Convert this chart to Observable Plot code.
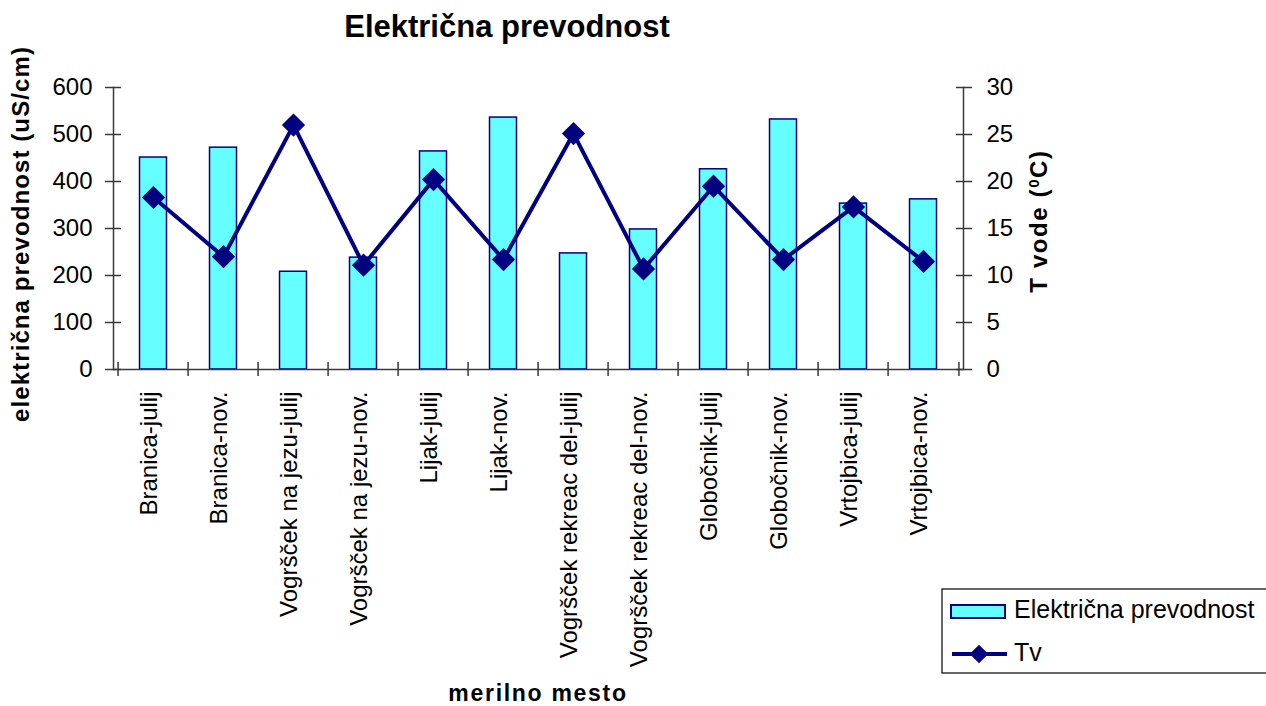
<!DOCTYPE html>
<html>
<head>
<meta charset="utf-8">
<script src="https://cdn.jsdelivr.net/npm/d3@7"></script>
<script src="https://cdn.jsdelivr.net/npm/@observablehq/plot@0.6"></script>
<style>
  body { margin: 0; background: #fff; }
  #chart { width: 1266px; height: 706px; overflow: hidden; }
  #chart svg { font-family: "Liberation Sans", Arial, sans-serif; }
</style>
</head>
<body>
<div id="chart"></div>
<script>
// Measuring sites and sampling season
const sites = [
  "Branica-julij", "Branica-nov.",
  "Vogršček na jezu-julij", "Vogršček na jezu-nov.",
  "Lijak-julij", "Lijak-nov.",
  "Vogršček rekreac del-julij", "Vogršček rekreac del-nov.",
  "Globočnik-julij", "Globočnik-nov.",
  "Vrtojbica-julij", "Vrtojbica-nov."
];
// Electrical conductivity (uS/cm)
const conductivity = [451, 472, 208, 238, 464, 536, 247, 298, 426, 532, 353, 362];
// Water temperature (°C)
const waterTemp = [18.3, 12.0, 26.0, 11.1, 20.2, 11.7, 25.1, 10.7, 19.5, 11.7, 17.3, 11.5];
// Axis ticks
const conductivityTicks = [0, 100, 200, 300, 400, 500, 600];
const tempTicks = [0, 5, 10, 15, 20, 25, 30];
const seriesNames = ["Električna prevodnost", "Tv"];

const title = "Električna prevodnost";
const yLabelLeft = "električna prevodnost (uS/cm)";
const xLabel = "merilno mesto";

const barFill = "#66ffff";
const navy = "#000080";
const axisGrey = "#3a3a3a";

const W = 1266, H = 706;
const mL = 113, mR = 303, mT = 87, mB = 337;
const step = (W - mL - mR) / sites.length;

// temperature shares the conductivity axis: 30 °C ↔ 600 uS/cm
const k = d3.max(conductivityTicks) / d3.max(tempTicks);

const rows = sites.map((s, i) => ({site: s, ec: conductivity[i], tv: waterTemp[i]}));
const noText = () => "";

const chart = Plot.plot({
  width: W, height: H,
  marginLeft: mL, marginRight: mR, marginTop: mT, marginBottom: mB,
  style: {fontFamily: "Liberation Sans, Arial, sans-serif", fontSize: "24px", color: "#000", background: "#fff"},
  x: {domain: sites, padding: 0, label: null},
  y: {domain: [0, 600], label: null},
  marks: [
    Plot.barY(rows, {x: "site", y: "ec", fill: barFill, stroke: navy, strokeWidth: 1.5,
      insetLeft: 21.5, insetRight: 21.5}),
    // axis lines
    Plot.frame({anchor: "left", stroke: axisGrey, strokeWidth: 1.5}),
    Plot.frame({anchor: "right", stroke: axisGrey, strokeWidth: 1.5}),
    Plot.ruleY([0], {stroke: axisGrey, strokeWidth: 1.5}),
    // left axis (conductivity)
    Plot.axisY(conductivityTicks, {anchor: "left", tickSize: 16, dx: 8, tickPadding: 13,
      stroke: axisGrey, strokeWidth: 1.5, fontSize: 24, label: null}),
    // right axis (temperature)
    Plot.axisY(conductivityTicks, {anchor: "right", tickSize: 16, dx: -8, tickPadding: 15,
      tickFormat: d => d / k, stroke: axisGrey, strokeWidth: 1.5, fontSize: 24, label: null}),
    // category labels
    Plot.axisX({anchor: "bottom", tickSize: 0, tickRotate: -90, tickPadding: 22, dx: -4,
      fontSize: 24, label: null}),
    // category separators
    Plot.axisX(sites, {anchor: "bottom", tickSize: 14, dy: -7, dx: -step / 2, tickFormat: noText,
      stroke: axisGrey, strokeWidth: 1.5, label: null}),
    Plot.axisX([sites[sites.length - 1]], {anchor: "bottom", tickSize: 14, dy: -7, dx: step / 2,
      tickFormat: noText, stroke: axisGrey, strokeWidth: 1.5, label: null}),
    // temperature line
    Plot.line(rows, {x: "site", y: d => d.tv * k, stroke: navy, strokeWidth: 4}),
    Plot.dot(rows, {x: "site", y: d => d.tv * k, symbol: "diamond2", r: 9.5, fill: navy, stroke: navy})
  ]
});

document.getElementById("chart").appendChild(chart);

const svg = d3.select(chart);
const font = "Liberation Sans, Arial, sans-serif";

// chart title
svg.append("text")
  .attr("x", 507).attr("y", 37)
  .attr("text-anchor", "middle")
  .attr("font-family", font).attr("font-weight", "bold")
  .attr("font-size", 31)
  .text(title);

// left axis title
svg.append("text")
  .attr("transform", "translate(29,234) rotate(-90)")
  .attr("text-anchor", "middle")
  .attr("font-family", font).attr("font-weight", "bold")
  .attr("font-size", 24).attr("letter-spacing", 1.1)
  .text(yLabelLeft);

// right axis title with superscript degree zero
const rt = svg.append("text")
  .attr("transform", "translate(1047,221) rotate(-90)")
  .attr("text-anchor", "middle")
  .attr("font-family", font).attr("font-weight", "bold")
  .attr("font-size", 24).attr("letter-spacing", 1.6);
rt.append("tspan").text("T vode (");
rt.append("tspan").attr("baseline-shift", "super").attr("font-size", 15).text("0");
rt.append("tspan").text("C)");

// x axis title
svg.append("text")
  .attr("x", 538).attr("y", 701)
  .attr("text-anchor", "middle")
  .attr("font-family", font).attr("font-weight", "bold")
  .attr("font-size", 23).attr("letter-spacing", 1.7)
  .text(xLabel);

// legend
const lg = svg.append("g").attr("text-anchor", "start");
lg.append("rect").attr("x", 942).attr("y", 589).attr("width", 340).attr("height", 84)
  .attr("fill", "#fff").attr("stroke", "#000").attr("stroke-width", 1.2);
lg.append("rect").attr("x", 951).attr("y", 605).attr("width", 54).attr("height", 13)
  .attr("fill", barFill).attr("stroke", navy).attr("stroke-width", 2);
lg.append("text").attr("x", 1014).attr("y", 618).attr("text-anchor", "start")
  .attr("font-family", font).attr("font-size", 25).text(seriesNames[0]);
lg.append("line").attr("x1", 952).attr("x2", 1007).attr("y1", 654).attr("y2", 654)
  .attr("stroke", navy).attr("stroke-width", 4);
lg.append("path").attr("transform", "translate(979,654)")
  .attr("d", d3.symbol(d3.symbolDiamond2, 220)())
  .attr("fill", navy);
lg.append("text").attr("x", 1014).attr("y", 661).attr("text-anchor", "start")
  .attr("font-family", font).attr("font-size", 25).text(seriesNames[1]);
</script>
</body>
</html>
